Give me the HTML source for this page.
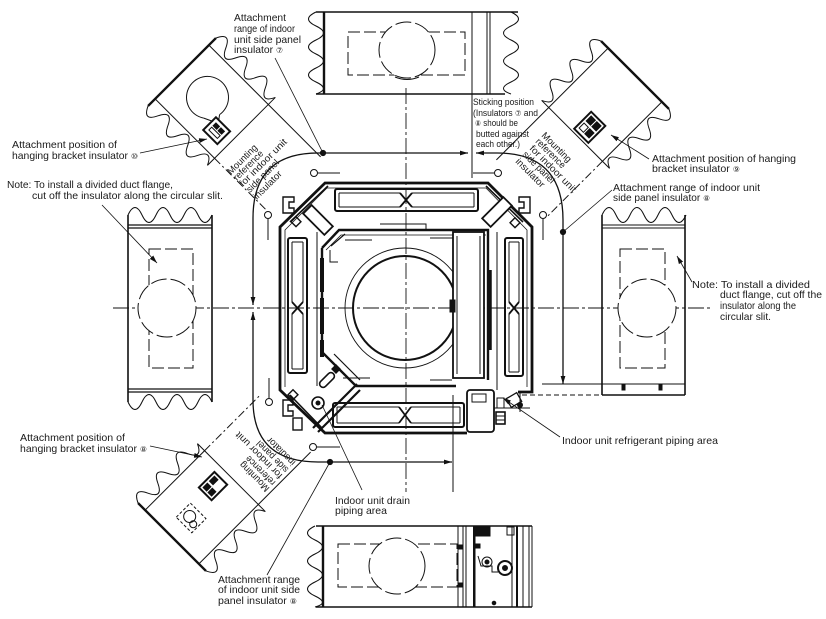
<!DOCTYPE html>
<html><head><meta charset="utf-8">
<style>
html,body{margin:0;padding:0;background:#fff;}
svg{display:block}
text{font-family:"Liberation Sans","DejaVu Sans","Noto Sans CJK JP",sans-serif;font-size:10.5px;fill:#1a1a1a;stroke:none}
.s{font-size:9.5px}
.c{font-size:8px}
</style></head><body>
<svg width="826" height="619" viewBox="0 0 826 619" xmlns="http://www.w3.org/2000/svg">
<defs>
<marker id="a" viewBox="0 0 10 6" refX="10" refY="3" markerWidth="8" markerHeight="5" markerUnits="userSpaceOnUse" orient="auto-start-reverse"><path d="M0,0 L10,3 L0,6z" fill="#111"/></marker>
</defs>
<rect width="826" height="619" fill="#fff"/>

<g fill="none" stroke="#111" stroke-width="1">

<!-- centre lines -->
<path d="M113,308 H712" stroke-dasharray="16 3 3 3" stroke-width="0.9"/>
<path d="M406,88 V492" stroke-dasharray="16 3 3 3" stroke-width="0.9"/>

<!-- TOP PANEL -->
<path d="M316,12 H518 M316,94 H505" stroke-width="1.4"/>
<path d="M324,12 V94" stroke-width="2.4"/>
<path d="M472,12 V178 M487,12 V94 M490,12 V94"/>
<path d="M316,12 Q301,19 316,26 T316,40 T316,54 T316,68 T316,82 T316,94"/>
<path d="M511,12 Q526,19 511,26 T511,40 T511,54 T511,68 T511,82 T511,94"/>
<rect x="348" y="32" width="117" height="43" stroke-dasharray="12 4"/>
<circle cx="407" cy="50" r="28" fill="#fff" stroke-dasharray="16 4"/>
<path d="M395,77 Q407,82 419,77"/>

<!-- LEFT PANEL -->
<path d="M128,215 Q135,200 142,215 T156,215 T170,215 T184,215 T198,215 T212,215"/>
<path d="M128,225 H212 M128,228 H212 M128,389 H212 M128,392 H212" stroke-width="1.2"/>
<path d="M128,215 V402 M212,215 V402" stroke-width="1.6"/>
<path d="M128,402 Q135,417 142,402 T156,402 T170,402 T184,402 T198,402 T212,402"/>
<rect x="149" y="249" width="44" height="119" stroke-dasharray="12 4"/>
<circle cx="167" cy="308" r="29" fill="#fff" stroke-dasharray="16 4"/>

<!-- RIGHT PANEL -->
<path d="M602,215 Q609,200 616,215 T630,215 T644,215 T658,215 T672,215 T686,215"/>
<path d="M602,225 H685 M602,228 H685 M542,384 H685" stroke-width="1.1"/>
<path d="M602,215 V395 M685,215 V395 M602,395 H685" stroke-width="1.6"/>
<rect x="622" y="385" width="3" height="5" fill="#111"/>
<rect x="659" y="385" width="3" height="5" fill="#111"/>
<rect x="620" y="249" width="45" height="119" stroke-dasharray="12 4"/>
<circle cx="647" cy="308" r="29" fill="#fff" stroke-dasharray="16 4"/>
<path d="M522,395 H602" stroke-dasharray="5 3"/>

<!-- BOTTOM PANEL -->
<path d="M316,526 H532 M316,607 H532" stroke-width="1.6"/>
<path d="M323,526 V607" stroke-width="2.4"/>
<path d="M315,526 Q300,533 315,540 T315,554 T315,568 T315,582 T315,596 T315,607"/>
<path d="M458,526 V607 M463,526 V607 M466,526 V607 M475,526 V607 M512,526 V607 M523,526 V607 M529,526 V607 M532,526 V607"/>
<path d="M474,526 V607 M517,526 V607" stroke-width="2"/>
<rect x="338" y="544" width="119" height="43" stroke-dasharray="12 4"/>
<circle cx="397" cy="566" r="28" fill="#fff" stroke-dasharray="16 4"/>
<rect x="475" y="527" width="15" height="9" fill="#111"/>
<rect x="507" y="527" width="7" height="8"/>
<rect x="459" y="545" width="4" height="4" fill="#111"/>
<rect x="459" y="583" width="4" height="4" fill="#111"/>
<circle cx="487" cy="562" r="5"/><circle cx="487" cy="562" r="2" fill="#111"/>
<circle cx="505" cy="568" r="7" stroke-width="2"/><circle cx="505" cy="568" r="2.5" fill="#111"/>
<path d="M478,556 L481,566 H492 V572 H498"/>
<circle cx="494" cy="603" r="1.8" fill="#111"/>
<rect x="476" y="544" width="4" height="4" fill="#111"/>

<!-- UPPER-LEFT DIAGONAL PANEL -->
<g transform="translate(182,72) rotate(45)">
 <path d="M0,-48 V48" stroke-width="2.4"/>
 <path d="M84,-48 V48"/>
 <path d="M0,-48 Q7,-63 14,-48 T28,-48 T42,-48 T56,-48 T70,-48 T84,-48"/>
 <path d="M0,48 Q7,63 14,48 T28,48 T42,48 T56,48 T70,48 T84,48"/>
 <path d="M0,-38 H84 M0,38 H84"/>
 <path d="M84,-38 H158"/>
 <path d="M84,38 H162" stroke-dasharray="8 3 2 3"/>
 <path d="M48,17.2 A21,21 0 1 1 56.7,3.6"/>
 <path d="M48,17.2 L57,13 M56.7,3.6 L60,8"/>
 <g transform="translate(66,17)">
  <rect x="-10" y="-9" width="20" height="18" stroke-width="2"/>
  <rect x="-6" y="-5" width="5" height="4" fill="#111"/>
  <rect x="1" y="-5" width="5" height="4" fill="#111"/>
  <rect x="-6" y="1" width="12" height="4"/>
 </g>
</g>

<!-- UPPER-RIGHT DIAGONAL PANEL -->
<g transform="translate(635,75) rotate(135)">
 <path d="M0,-48 V48" stroke-width="2.4"/>
 <path d="M84,-48 V48"/>
 <path d="M0,-48 Q7,-63 14,-48 T28,-48 T42,-48 T56,-48 T70,-48 T84,-48"/>
 <path d="M0,48 Q7,63 14,48 T28,48 T42,48 T56,48 T70,48 T84,48"/>
 <path d="M0,-38 H84 M0,38 H84"/>
 <path d="M84,38 H158"/>
 <path d="M84,-38 H162" stroke-dasharray="8 3 2 3"/>
 <g transform="translate(69,-5)">
  <rect x="-12" y="-10" width="24" height="20" stroke-width="2"/>
  <rect x="-9" y="-7" width="7" height="6" fill="#111"/>
  <rect x="1" y="-7" width="7" height="6" fill="#111"/>
  <rect x="-9" y="1" width="7" height="6" fill="#111"/>
  <rect x="1" y="1" width="7" height="6"/>
 </g>
</g>

<!-- LOWER-LEFT DIAGONAL PANEL -->
<g transform="translate(172,537) rotate(-45)">
 <path d="M0,-48 V48" stroke-width="2.4"/>
 <path d="M84,-48 V48"/>
 <path d="M0,-48 Q7,-63 14,-48 T28,-48 T42,-48 T56,-48 T70,-48 T84,-48"/>
 <path d="M0,48 Q7,63 14,48 T28,48 T42,48 T56,48 T70,48 T84,48"/>
 <path d="M0,-38 H84 M0,38 H84"/>
 <path d="M84,-38 H162" stroke-dasharray="8 3 2 3"/>
 <path d="M84,38 H158"/>
 <circle cx="27" cy="-2" r="6"/>
 <circle cx="24" cy="6" r="3.5"/>
 <rect x="17" y="-11" width="20" height="22" stroke-dasharray="3 2"/>
 <g transform="translate(65,-7)">
  <rect x="-11" y="-9" width="22" height="18" stroke-width="2"/>
  <rect x="-8" y="-6" width="6" height="5" fill="#111"/>
  <rect x="1" y="-6" width="7" height="5" fill="#111"/>
  <rect x="-8" y="1" width="6" height="5" fill="#111"/>
 </g>
</g>

<!-- small circles near unit corners -->
<circle cx="314" cy="173" r="3.5" fill="#fff"/><path d="M318,173 H340"/>
<circle cx="268" cy="215" r="3.5" fill="#fff"/><path d="M268,219 V240"/>
<circle cx="498" cy="173" r="3.5" fill="#fff"/><path d="M494,173 H473"/>
<circle cx="543" cy="215" r="3.5" fill="#fff"/><path d="M543,219 V240"/>
<circle cx="269" cy="402" r="3.5" fill="#fff"/><path d="M269,398 V378"/>
<circle cx="313" cy="447" r="3.5" fill="#fff"/><path d="M317,447 H340"/>

<!-- rounded boundary with arrows -->
<path d="M253,305 V218 Q253,153 318,153 H468" stroke-width="1.3" marker-start="url(#a)" marker-end="url(#a)"/>
<path d="M476,153 H497 Q563,153 563,220 V384" stroke-width="1.3" marker-start="url(#a)" marker-end="url(#a)"/>
<path d="M253,312 V400 Q253,462 318,462 H452" stroke-width="1.3" marker-start="url(#a)" marker-end="url(#a)"/>
<path d="M453,395 V492"/>
<circle cx="323" cy="153" r="2.6" fill="#111"/>
<circle cx="563" cy="232" r="2.6" fill="#111"/>
<circle cx="330" cy="462" r="2.6" fill="#111"/>

<!-- UNIT -->
<path d="M467,433 H325 L280,390 V227 L325,183 H488 L532,227 V392 H518" stroke-width="2.8"/>
<path d="M285,387 V230 L327,188 H486 L527,230 V387" stroke-width="0.8"/>
<path d="M290,222 L328,186 M523,222 L486,186 M290,395 L322,428" stroke-width="1.6"/>
<!-- slots -->
<rect x="335" y="189" width="143" height="22" rx="2" stroke-width="2"/>
<path d="M339,193 H400 M412,193 H474 M339,207 H400 M412,207 H474 M339,193 V207 M474,193 V207"/>
<path d="M400,193 L412,207 M412,193 L400,207" stroke-width="1.8"/>
<rect x="333" y="403" width="131" height="24" rx="2" stroke-width="2"/>
<path d="M337,407 H399 M411,407 H460 M337,423 H399 M411,423 H460 M337,407 V423 M460,407 V423"/>
<path d="M399,407 L411,423 M411,407 L399,423" stroke-width="1.8"/>
<rect x="288" y="238" width="19" height="135" rx="2" stroke-width="2"/>
<path d="M292,242 V302 M292,314 V369 M303,242 V302 M303,314 V369 M292,242 H303 M292,369 H303"/>
<path d="M292,302 L303,314 M303,302 L292,314" stroke-width="1.8"/>
<rect x="505" y="238" width="18" height="138" rx="2" stroke-width="2"/>
<path d="M509,242 V302 M509,314 V372 M519,242 V302 M519,314 V372 M509,242 H519 M509,372 H519"/>
<path d="M509,302 L519,314 M519,302 L509,314" stroke-width="1.8"/>
<!-- inner body -->
<path d="M317,232 V386 M497,232 V390"/>
<circle cx="405" cy="308" r="60" stroke-width="0.9"/>
<circle cx="405" cy="308" r="52" stroke-width="2"/>
<path d="M322,248 L339,230 H488 V380 M322,248 V352 L356,386 H456" stroke-width="2.4"/>
<path d="M326,250 L341,235 H486" stroke-width="0.8"/>
<path d="M322,258 V292 M322,298 V334 M322,340 V357" stroke-width="4"/>
<path d="M490,270 V350" stroke-width="3.5"/>
<path d="M330,250 V262 H338 M345,240 H372 M380,224 H426 V230 M430,238 H470 M343,378 H370 M430,380 H452"/>
<path d="M331,246 L345,234 M334,354 L360,380" stroke-width="1.2"/>
<rect x="453" y="232" width="31" height="146" fill="#fff" stroke-width="1.8"/>
<path d="M457,236 V374 M480,236 V374"/>
<rect x="450" y="300" width="5" height="12" fill="#111"/>
<!-- corner pieces -->
<rect x="-15" y="-6" width="30" height="12" transform="translate(318,220) rotate(45)" fill="#fff" stroke-width="1.8"/>
<rect x="-15" y="-6" width="30" height="12" transform="translate(497,212) rotate(-45)" fill="#fff" stroke-width="1.8"/>
<path d="M283,197 h11 v5 h-5 v6 h5 v5 h-11 z" stroke-width="1.4"/>
<rect x="293" y="218" width="7" height="7" transform="rotate(45 296 221)" stroke-width="1.4"/>
<path d="M530,197 h-11 v5 h5 v6 h-5 v5 h11 z" stroke-width="1.4"/>
<rect x="512" y="219" width="7" height="7" transform="rotate(45 515 222)" stroke-width="1.4"/>
<path d="M283,400 h10 v5 h-5 v6 h5 v5 h-10 z" stroke-width="1.4"/>
<rect x="293" y="418" width="9" height="12" stroke-width="1.4"/>
<rect x="290" y="391" width="7" height="7" transform="rotate(45 293 394)" stroke-width="1.4"/>
<!-- drain -->
<path d="M313,428 L357,384 M318,432 L360,390" stroke-width="2.2"/>
<circle cx="318" cy="403" r="6" stroke-width="1.6"/><circle cx="318" cy="403" r="2" fill="#111"/>
<rect x="-9" y="-3.5" width="18" height="7" rx="3.5" transform="translate(327,380) rotate(-45)" stroke-width="1.6"/>
<rect x="333" y="366" width="6" height="6" transform="rotate(45 336 369)" fill="#111"/>
<!-- refrigerant piping -->
<rect x="467" y="390" width="27" height="42" rx="3" stroke-width="1.8" fill="#fff"/>
<rect x="472" y="394" width="14" height="8"/>
<path d="M494,408 H530 M520,392 V412"/>
<rect x="497" y="398" width="7" height="10"/>
<rect x="496" y="412" width="9" height="12" stroke-width="1.6"/>
<path d="M496,416 H505 M496,420 H505"/>
<rect x="-6" y="-5" width="12" height="10" transform="translate(514,400) rotate(-30)" stroke-width="1.3"/>
<circle cx="520" cy="405" r="2.5" fill="#111"/>

<!-- leaders -->
<path d="M275,58 L323,153" stroke-width="0.8"/>
<path d="M140,153 L207,139" stroke-width="0.8" marker-end="url(#a)"/>
<path d="M102,205 L157,263" stroke-width="0.8" marker-end="url(#a)"/>
<path d="M649,159 L611,135" stroke-width="0.8" marker-end="url(#a)"/>
<path d="M612,190 L563,232" stroke-width="0.8"/>
<path d="M692,282 L677,256" stroke-width="0.8" marker-end="url(#a)"/>
<path d="M560,437 L503,398" stroke-width="0.8" marker-end="url(#a)"/>
<path d="M150,446 L202,457" stroke-width="0.8" marker-end="url(#a)"/>
<path d="M362,490 L322,405" stroke-width="0.8"/>
<path d="M267,575 L330,462" stroke-width="0.8"/>
</g>

<!-- LABELS -->
<text x="234" y="21" textLength="52" lengthAdjust="spacingAndGlyphs">Attachment</text>
<text x="234" y="32" textLength="61" lengthAdjust="spacingAndGlyphs">range of indoor</text>
<text x="234" y="43" textLength="67" lengthAdjust="spacingAndGlyphs">unit side panel</text>
<text x="234" y="53" textLength="49" lengthAdjust="spacingAndGlyphs">insulator <tspan class="c">⑦</tspan></text>

<text x="12" y="148" textLength="105" lengthAdjust="spacingAndGlyphs">Attachment position of</text>
<text x="12" y="159" textLength="126" lengthAdjust="spacingAndGlyphs">hanging bracket insulator <tspan class="c">⑩</tspan></text>

<text x="7" y="188" textLength="166" lengthAdjust="spacingAndGlyphs">Note: To install a divided duct flange,</text>
<text x="32" y="199" textLength="191" lengthAdjust="spacingAndGlyphs">cut off the insulator along the circular slit.</text>

<text class="s" x="473" y="105" textLength="61" lengthAdjust="spacingAndGlyphs">Sticking position</text>
<text class="s" x="473" y="116" textLength="65" lengthAdjust="spacingAndGlyphs">(Insulators <tspan class="c">⑦</tspan> and</text>
<text class="s" x="475" y="126" textLength="43" lengthAdjust="spacingAndGlyphs"><tspan class="c">⑧</tspan> should be</text>
<text class="s" x="476" y="137" textLength="53" lengthAdjust="spacingAndGlyphs">butted against</text>
<text class="s" x="476" y="147" textLength="44" lengthAdjust="spacingAndGlyphs">each other.)</text>

<text x="652" y="162" textLength="144" lengthAdjust="spacingAndGlyphs">Attachment position of hanging</text>
<text x="652" y="172" textLength="88" lengthAdjust="spacingAndGlyphs">bracket insulator <tspan class="c">⑨</tspan></text>

<text x="613" y="191" textLength="147" lengthAdjust="spacingAndGlyphs">Attachment range of indoor unit</text>
<text x="613" y="201" textLength="97" lengthAdjust="spacingAndGlyphs">side panel insulator <tspan class="c">⑧</tspan></text>

<text x="692" y="288" textLength="118" lengthAdjust="spacingAndGlyphs">Note: To install a divided</text>
<text x="720" y="298" textLength="102" lengthAdjust="spacingAndGlyphs">duct flange, cut off the</text>
<text x="720" y="309" textLength="76" lengthAdjust="spacingAndGlyphs">insulator along the</text>
<text x="720" y="320" textLength="51" lengthAdjust="spacingAndGlyphs">circular slit.</text>

<text x="562" y="444" textLength="156" lengthAdjust="spacingAndGlyphs">Indoor unit refrigerant piping area</text>

<text x="20" y="441" textLength="105" lengthAdjust="spacingAndGlyphs">Attachment position of</text>
<text x="20" y="452" textLength="127" lengthAdjust="spacingAndGlyphs">hanging bracket insulator <tspan class="c">⑧</tspan></text>

<text x="335" y="504" textLength="75" lengthAdjust="spacingAndGlyphs">Indoor unit drain</text>
<text x="335" y="514" textLength="52" lengthAdjust="spacingAndGlyphs">piping area</text>

<text x="218" y="583" textLength="82" lengthAdjust="spacingAndGlyphs">Attachment range</text>
<text x="218" y="593" textLength="82" lengthAdjust="spacingAndGlyphs">of indoor unit side</text>
<text x="218" y="604" textLength="79" lengthAdjust="spacingAndGlyphs">panel insulator <tspan class="c">⑧</tspan></text>

<!-- rotated mounting reference texts: upper-left -->
<text class="s" transform="translate(231,175) rotate(-45)" textLength="38" lengthAdjust="spacingAndGlyphs">Mounting</text>
<text class="s" transform="translate(237,181) rotate(-45)" textLength="38" lengthAdjust="spacingAndGlyphs">reference</text>
<text class="s" transform="translate(243,187) rotate(-45)" textLength="63" lengthAdjust="spacingAndGlyphs">for indoor unit</text>
<text class="s" transform="translate(250,193) rotate(-45)" textLength="42" lengthAdjust="spacingAndGlyphs">side panel</text>
<text class="s" transform="translate(257,200) rotate(-45)" textLength="36" lengthAdjust="spacingAndGlyphs">insulator</text>

<!-- upper-right -->
<text class="s" transform="translate(541,136) rotate(45)" textLength="38" lengthAdjust="spacingAndGlyphs">Mounting</text>
<text class="s" transform="translate(535,142) rotate(45)" textLength="38" lengthAdjust="spacingAndGlyphs">reference</text>
<text class="s" transform="translate(529,149) rotate(45)" textLength="62" lengthAdjust="spacingAndGlyphs">for indoor unit</text>
<text class="s" transform="translate(522,155) rotate(45)" textLength="41" lengthAdjust="spacingAndGlyphs">side panel</text>
<text class="s" transform="translate(515,162) rotate(45)" textLength="37" lengthAdjust="spacingAndGlyphs">insulator</text>

<!-- lower-left (upside down) -->
<text class="s" transform="translate(270,488) rotate(-135)" textLength="38" lengthAdjust="spacingAndGlyphs">Mounting</text>
<text class="s" transform="translate(276,482) rotate(-135)" textLength="38" lengthAdjust="spacingAndGlyphs">reference</text>
<text class="s" transform="translate(283,475) rotate(-135)" textLength="62" lengthAdjust="spacingAndGlyphs">for indoor unit</text>
<text class="s" transform="translate(289,469) rotate(-135)" textLength="41" lengthAdjust="spacingAndGlyphs">side panel</text>
<text class="s" transform="translate(296,462) rotate(-135)" textLength="36" lengthAdjust="spacingAndGlyphs">insulator</text>

</svg>
</body></html>
